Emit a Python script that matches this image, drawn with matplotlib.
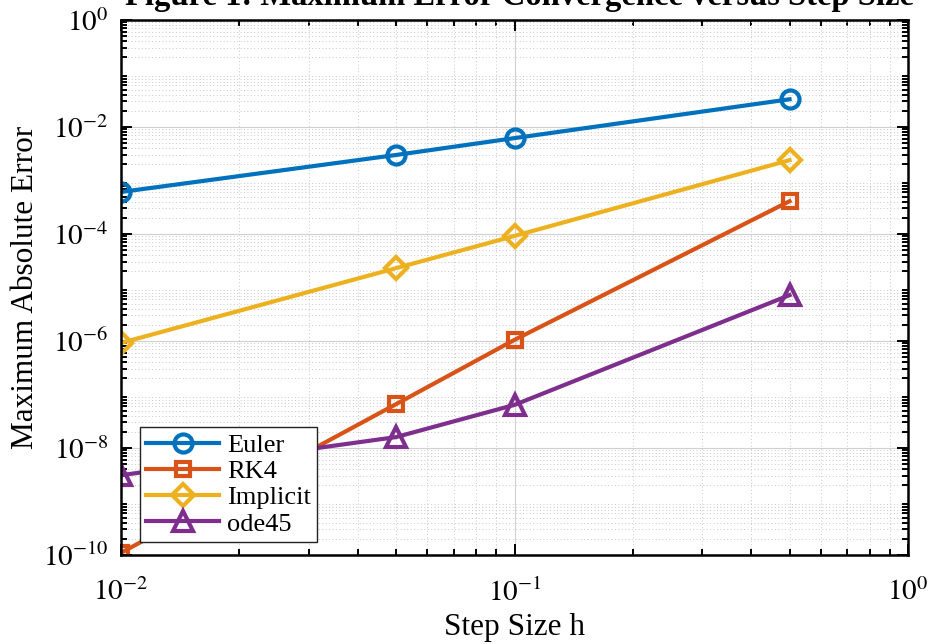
import numpy as np
import matplotlib
matplotlib.use("Agg")
import matplotlib.pyplot as plt
from matplotlib.ticker import LogLocator, NullFormatter

plt.rcParams["font.family"] = ["Liberation Serif", "DejaVu Serif"]
plt.rcParams["mathtext.fontset"] = "stix"

# Step sizes and maximum absolute error for each solver
step_sizes = [0.01, 0.05, 0.1, 0.5]
err_euler = [6.1e-4, 3.0e-3, 6.2e-3, 3.3e-2]
err_rk4 = [1.1e-10, 6.6e-8, 1.05e-6, 4.1e-4]
err_implicit = [9.2e-7, 2.3e-5, 9.2e-5, 2.4e-3]
err_ode45 = [3.1e-9, 1.6e-8, 6.4e-8, 7.2e-6]

series = [
    ("Euler", err_euler, "#0072BD", "o", 13),
    ("RK4", err_rk4, "#D95319", "s", 10.5),
    ("Implicit", err_implicit, "#EDB120", "D", 11.5),
    ("ode45", err_ode45, "#7E2F8E", "^", 14.5),
]

fig = plt.figure(figsize=(9.33, 6.44), dpi=100)
ax = fig.add_axes([121 / 933, 1 - 555 / 644, 787 / 933, 535 / 644])

for name, vals, color, mk, ms in series:
    ax.loglog(step_sizes, vals, color=color, linewidth=3, marker=mk,
              markersize=ms, markerfacecolor="none", markeredgewidth=3,
              label=name)

ax.set_xlim(1e-2, 1e0)
ax.set_ylim(1e-10, 1e0)
ax.yaxis.set_minor_locator(LogLocator(base=10, subs=np.arange(2, 10), numticks=20))
ax.yaxis.set_minor_formatter(NullFormatter())
ax.set_yticks([1e-10, 1e-8, 1e-6, 1e-4, 1e-2, 1e0])
ax.set_yticklabels([r"$10^{-10}$", r"$10^{-8}$", r"$10^{-6}$", r"$10^{-4}$",
                    r"$10^{-2}$", r"$10^{0}$"])
ax.set_xticks([1e-2, 1e-1, 1e0])
ax.set_xticklabels([r"$10^{-2}$", r"$10^{-1}$", r"$10^{0}$"])

ax.grid(which="major", color="#d0d0d0", linewidth=0.8, linestyle="-")
ax.grid(which="minor", color="#c8c8c8", linewidth=0.7, linestyle=(0, (1, 2.5)))
ax.set_axisbelow(True)

ax.tick_params(which="both", direction="in", top=True, right=True,
               labelsize=21, width=1.4)
ax.tick_params(axis="y", pad=9)
ax.tick_params(axis="x", pad=17)
ax.tick_params(which="major", length=8)
ax.tick_params(which="minor", length=4)
for sp in ax.spines.values():
    sp.set_linewidth(1.8)

ax.set_xlabel("Step Size h", fontsize=22.5, labelpad=4)
ax.set_ylabel("Maximum Absolute Error", fontsize=22.5, labelpad=2)

leg = ax.legend(loc="lower left", bbox_to_anchor=(0.024, 0.024),
                fontsize=19, frameon=True, fancybox=False, handlelength=2.75,
                borderpad=0.25, labelspacing=0.1, handletextpad=0.3,
                borderaxespad=0)
leg.get_frame().set_edgecolor("#222222")
leg.get_frame().set_linewidth(1.0)
leg.get_frame().set_alpha(1)

# title baseline sits just below the top edge of the canvas
fig.text(0.557, 1 - 5 / 644, "Figure 1: Maximum Error Convergence versus Step Size",
         ha="center", va="baseline", fontsize=23.5, fontweight="bold")

fig.savefig("out.png", dpi=100)
